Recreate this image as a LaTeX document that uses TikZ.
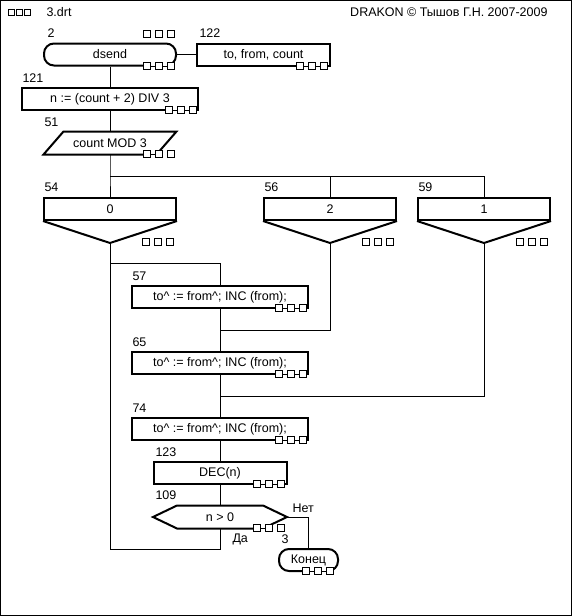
\documentclass[tikz,border=0pt]{standalone}
\usepackage{fontspec}
\setmainfont{Liberation Sans}
\begin{document}
\begin{tikzpicture}[x=1pt, y=-1pt, line width=1pt,
    every node/.style={font=\fontsize{12.5}{15}\selectfont},
    box/.style={draw, line width=2pt, minimum height=22pt, inner sep=0pt},
    term/.style={box, rounded corners=10pt},
    plain/.style={minimum height=22pt, inner sep=0pt},
    num/.style={anchor=west, inner sep=0pt}]

  % Frame and header
  \useasboundingbox (0,0) rectangle (572,616);
  \draw (0.5,0.5) rectangle (571,615);
  \foreach \k in {0,1,2} \draw (8.5+7.8*\k,9.5) rectangle ++(6.3,6.3);
  \node[num] (file) at (46,12.5) {3.drt};
  \node[num, anchor=east] (credit) at (548,12.5) {DRAKON © Тышов Г.Н. 2007-2009};

  % Define the three small squares (#3 = length of the thin link under them)
  \def\marks#1#2#3{
    \fill[white] (#1,{#2-1.6}) rectangle ++(#3,3.2);
    \draw (#1,#2) -- ++(#3,0);
    \foreach \k in {0,1,2} \draw[fill=white] ({#1+12*\k},{#2-3.5}) rectangle ++(7,7);}

  % Title, parameters and first actions
  \node[term, minimum width=132pt] (start) at (110,54.5) {dsend};
  \node[box, minimum width=133pt] (params) at (263.5,54.5) {to, from, count};
  \node[box, minimum width=176pt] (n121) at (110,99) {n := (count + 2) DIV 3};
  \node[plain, minimum width=132pt] (n51) at (110,143) {count MOD 3};
  \draw[line width=2pt] (n51.south west) -- ([xshift=20pt]n51.north west) -- (n51.north east)
    -- ([xshift=-20pt]n51.south east) -- cycle;

  % Case branches
  \foreach \nm/\x/\v in {c0/110/0, c2/330/2, c1/484/1} {
    \node[box, minimum width=132pt] (\nm) at (\x,209) {\v};
    \draw[line width=2pt] (\nm.south west) -- ([yshift=-22pt]\nm.south) coordinate (\nm-tip)
      -- (\nm.south east);
  }

  % Actions, question and end
  \node[box, minimum width=176pt] (a57) at (220,297) {to\textasciicircum{} := from\textasciicircum{}; INC (from);};
  \node[box, minimum width=176pt] (a65) at (220,363) {to\textasciicircum{} := from\textasciicircum{}; INC (from);};
  \node[box, minimum width=176pt] (a74) at (220,429) {to\textasciicircum{} := from\textasciicircum{}; INC (from);};
  \node[box, minimum width=133pt] (a123) at (220,473) {DEC(n)};
  \node[plain, minimum width=133pt] (q109) at (220,517) {n > 0};
  \draw[line width=2pt] (q109.west) -- ([xshift=24pt]q109.north west) -- ([xshift=-24pt]q109.north east)
    -- (q109.east) -- ([xshift=-24pt]q109.south east) -- ([xshift=24pt]q109.south west) -- cycle;
  \node[term, minimum width=59pt] (fin) at (308.5,560) {Конец};

  % Connectors
  \coordinate (fork) at (110,176);
  \coordinate (join) at (110,263);
  \coordinate (back) at (110,549);
  \coordinate (m2) at (220,330);
  \coordinate (m1) at (220,396);
  \draw (start.east) -- (params.west);
  \draw (start) -- (n121);
  \draw (n121) -- (n51);
  \draw (n51.south) -- (fork) -- (c0.north);
  \draw (fork) -| (c1.north);
  \draw (fork -| c2.north) -- (c2.north);
  \draw (c0-tip) -- (join) -| (a57.north);
  \draw (c2-tip) |- (m2);
  \draw (c1-tip) |- (m1);
  \draw (a57) -- (a65);
  \draw (a65) -- (a74);
  \draw (a74) -- (a123);
  \draw (a123) -- (q109);
  \draw (q109.south) |- (back) -- (join);
  \draw (q109.east) -| (fin.north);

  % Numbers and answers
  \node[num] (l2) at (47,33) {2};
  \node[num] (l122) at (199,33) {122};
  \node[num] (l121) at (22,78) {121};
  \node[num] (l51) at (44,122) {51};
  \node[num] (l54) at (44,187.5) {54};
  \node[num] (l56) at (264,187.5) {56};
  \node[num] (l59) at (418,187.5) {59};
  \node[num] (l57) at (132,276) {57};
  \node[num] (l65) at (132,342) {65};
  \node[num] (l74) at (132,408) {74};
  \node[num] (l123) at (155,452) {123};
  \node[num] (l109) at (155,495) {109};
  \node[num] (no) at (292,508) {Нет};
  \node[num] (yes) at (232,539) {Да};
  \node[num] (l3) at (281,539) {3};

  % Small squares
  \marks{143}{33.5}{0}
  \marks{143}{66}{31}
  \marks{296}{66}{31}
  \marks{165}{110}{31}
  \marks{143}{154}{19}
  \marks{142}{241.5}{0}
  \marks{362}{241.5}{0}
  \marks{516}{241.5}{0}
  \marks{275}{308}{31}
  \marks{275}{374}{31}
  \marks{275}{440}{31}
  \marks{253}{484}{31}
  \marks{253}{528}{19}
  \marks{302}{571}{31}
\end{tikzpicture}
\end{document}
